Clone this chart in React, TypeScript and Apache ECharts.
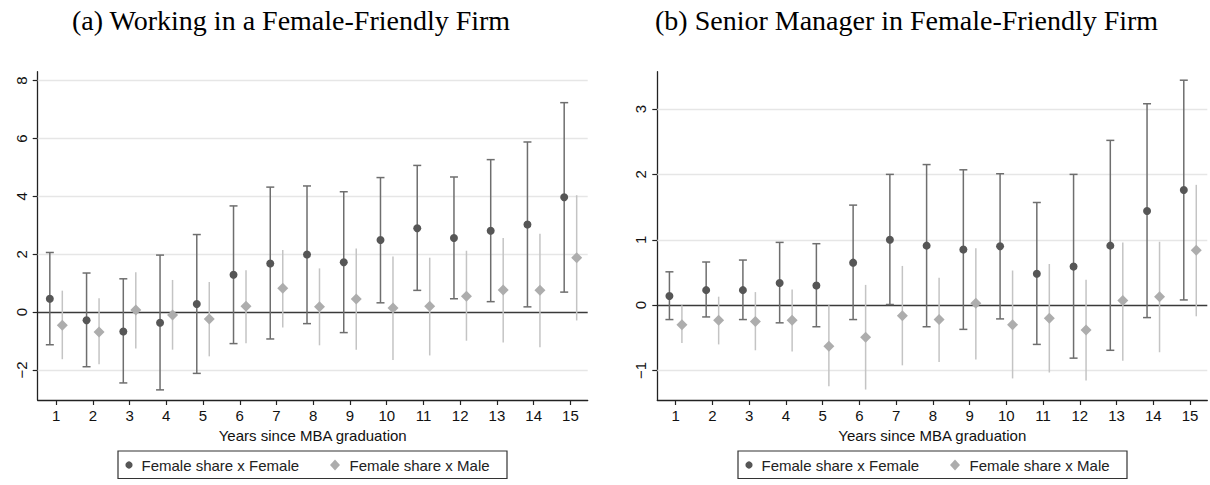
import React, { useEffect, useRef } from "react";
import * as echarts from "echarts";

const years = [1, 2, 3, 4, 5, 6, 7, 8, 9, 10, 11, 12, 13, 14, 15];

const leftFemale = [0.46, -0.28, -0.67, -0.37, 0.28, 1.29, 1.68, 1.99, 1.72, 2.49, 2.9, 2.56, 2.81, 3.03, 3.97];
const leftFemaleLow = [-1.13, -1.89, -2.45, -2.69, -2.12, -1.09, -0.93, -0.4, -0.71, 0.32, 0.75, 0.46, 0.36, 0.18, 0.69];
const leftFemaleHigh = [2.06, 1.35, 1.15, 1.97, 2.68, 3.67, 4.32, 4.36, 4.16, 4.65, 5.07, 4.67, 5.27, 5.88, 7.24];
const leftMale = [-0.46, -0.69, 0.07, -0.1, -0.24, 0.2, 0.82, 0.18, 0.45, 0.14, 0.2, 0.55, 0.76, 0.75, 1.88];
const leftMaleLow = [-1.63, -1.8, -1.26, -1.3, -1.53, -1.08, -0.53, -1.15, -1.3, -1.66, -1.5, -0.99, -1.05, -1.22, -0.29];
const leftMaleHigh = [0.74, 0.48, 1.38, 1.11, 1.04, 1.45, 2.15, 1.51, 2.2, 1.92, 1.88, 2.12, 2.56, 2.71, 4.04];

const rightFemale = [0.14, 0.23, 0.23, 0.34, 0.3, 0.65, 1.0, 0.91, 0.85, 0.9, 0.48, 0.59, 0.91, 1.44, 1.76];
const rightFemaleLow = [-0.22, -0.18, -0.22, -0.27, -0.33, -0.22, 0.01, -0.33, -0.37, -0.21, -0.6, -0.81, -0.69, -0.19, 0.08];
const rightFemaleHigh = [0.51, 0.66, 0.69, 0.96, 0.94, 1.53, 2.0, 2.15, 2.07, 2.01, 1.57, 2.0, 2.52, 3.08, 3.44];
const rightMale = [-0.3, -0.23, -0.25, -0.23, -0.63, -0.49, -0.16, -0.22, 0.03, -0.3, -0.2, -0.38, 0.07, 0.13, 0.84];
const rightMaleLow = [-0.58, -0.6, -0.69, -0.71, -1.24, -1.29, -0.92, -0.87, -0.83, -1.12, -1.03, -1.15, -0.85, -0.72, -0.17];
const rightMaleHigh = [0.0, 0.13, 0.2, 0.24, 0.0, 0.31, 0.6, 0.42, 0.87, 0.53, 0.63, 0.39, 0.96, 0.97, 1.84];

const leftYTicks = [-2, 0, 2, 4, 6, 8];
const rightYTicks = [-1, 0, 1, 2, 3];

const titles = ["(a) Working in a Female-Friendly Firm", "(b) Senior Manager in Female-Friendly Firm"];
const xAxisTitle = "Years since MBA graduation";
const femaleName = "Female share x Female";
const maleName = "Female share x Male";

const OFFSET = 0.17;
const SANS = "Liberation Sans, Arial, Helvetica, sans-serif";
const SERIF = "Liberation Serif, Times New Roman, serif";

const FEMALE_DOT = "#565656";
const FEMALE_CI = "#6e6e6e";
const MALE_DOT = "#adadad";
const MALE_CI = "#c4c4c4";

function errorBarSeries(gridIdx: number, offset: number, lows: number[], highs: number[], color: string, caps: boolean) {
  return {
    type: "custom",
    xAxisIndex: gridIdx,
    yAxisIndex: gridIdx,
    z: 3,
    silent: true,
    encode: { x: 0, y: [1, 2] },
    data: years.map((yr, i) => [yr + offset, lows[i], highs[i]]),
    renderItem: (params: any, api: any) => {
      const x = api.value(0);
      const p1 = api.coord([x, api.value(1)]);
      const p2 = api.coord([x, api.value(2)]);
      const style = { stroke: color, lineWidth: 1.5 };
      const children: any[] = [
        { type: "line", shape: { x1: p1[0], y1: p1[1], x2: p2[0], y2: p2[1] }, style },
      ];
      if (caps) {
        children.push({ type: "line", shape: { x1: p1[0] - 4, y1: p1[1], x2: p1[0] + 4, y2: p1[1] }, style });
        children.push({ type: "line", shape: { x1: p2[0] - 4, y1: p2[1], x2: p2[0] + 4, y2: p2[1] }, style });
      }
      return { type: "group", children };
    },
  };
}

function pointSeries(gridIdx: number, name: string, offset: number, vals: number[], symbol: string, size: number, color: string, gridTicks?: number[]) {
  const s: any = {
    type: "scatter",
    name,
    xAxisIndex: gridIdx,
    yAxisIndex: gridIdx,
    z: 4,
    symbol,
    symbolSize: size,
    itemStyle: { color, opacity: 1 },
    data: years.map((yr, i) => [yr + offset, vals[i]]),
  };
  if (gridTicks) {
    s.markLine = {
      silent: true,
      symbol: "none",
      z: 1,
      label: { show: false },
      animation: false,
      data: [
        ...gridTicks.filter((t) => t !== 0).map((t) => ({ yAxis: t, lineStyle: { color: "#e6e6e6", width: 1.4, type: "solid" } })),
        { yAxis: 0, lineStyle: { color: "#3a3a3a", width: 1.4, type: "solid" } },
      ],
    };
  }
  return s;
}

const fmt = (v: number) => String(v).replace("-", "\u2212");

function App() {
  const ref = useRef<HTMLDivElement>(null);
  useEffect(() => {
    document.body.style.margin = "0";
    const chart = echarts.init(ref.current!, null, { renderer: "svg" });
    const grids = [
      { left: 37.7, top: 71.7, width: 550, height: 328.3 },
      { left: 657.3, top: 71.7, width: 550, height: 328.3 },
    ];
    const yRanges = [
      { min: -3.04, max: 8.31, ticks: leftYTicks },
      { min: -1.45, max: 3.57, ticks: rightYTicks },
    ];
    const legendLefts = [118, 738];
    const graphics: any[] = [];
    titles.forEach((t, i) => {
      graphics.push({
        type: "text",
        left: i === 0 ? 72 : 655,
        top: 6,
        style: { text: t, font: `28px ${SERIF}`, fill: "#000" },
      });
    });
    legendLefts.forEach((L) => {
      graphics.push({ type: "rect", shape: { x: L, y: 451, width: 389, height: 27.5 }, style: { fill: "#fff", stroke: "#333", lineWidth: 1.2 } });
      graphics.push({ type: "circle", shape: { cx: L + 11, cy: 465, r: 3.6 }, style: { fill: FEMALE_DOT } });
      graphics.push({ type: "text", x: L + 23.5, y: 465.5, style: { text: femaleName, font: `15px ${SANS}`, fill: "#222", verticalAlign: "middle", align: "left" } });
      graphics.push({
        type: "polygon",
        shape: { points: [[L + 217, 459.5], [L + 222, 465], [L + 217, 470.5], [L + 212, 465]] },
        style: { fill: MALE_DOT },
      });
      graphics.push({ type: "text", x: L + 231.5, y: 465.5, style: { text: maleName, font: `15px ${SANS}`, fill: "#222", verticalAlign: "middle", align: "left" } });
    });

    const option: any = {
      animation: false,
      backgroundColor: "#fff",
      grid: grids,
      xAxis: [0, 1].map((i) => ({
        gridIndex: i,
        type: "value",
        min: 0.5,
        max: 15.47,
        axisLine: { show: true, onZero: false, lineStyle: { color: "#222", width: 1.3 } },
        axisTick: { show: true, customValues: years, length: 5, lineStyle: { color: "#222", width: 1.2 } },
        axisLabel: { customValues: years, margin: 8, fontSize: 15, color: "#111", fontFamily: SANS },
        splitLine: { show: false },
        name: xAxisTitle,
        nameLocation: "middle",
        nameGap: 20,
        nameTextStyle: { fontSize: 15, color: "#111", fontFamily: SANS },
      })),
      yAxis: [0, 1].map((i) => ({
        gridIndex: i,
        type: "value",
        min: yRanges[i].min,
        max: yRanges[i].max,
        axisLine: { show: true, onZero: false, lineStyle: { color: "#222", width: 1.3 } },
        axisTick: { show: true, customValues: yRanges[i].ticks, length: 5, lineStyle: { color: "#222", width: 1.2 } },
        axisLabel: { customValues: yRanges[i].ticks, rotate: 90, margin: 9, fontSize: 15, color: "#111", fontFamily: SANS, formatter: fmt },
        splitLine: { show: false },
      })),
      graphic: graphics,
      series: [
        errorBarSeries(0, -OFFSET, leftFemaleLow, leftFemaleHigh, FEMALE_CI, true),
        errorBarSeries(0, OFFSET, leftMaleLow, leftMaleHigh, MALE_CI, false),
        pointSeries(0, femaleName, -OFFSET, leftFemale, "circle", 8, FEMALE_DOT, leftYTicks),
        pointSeries(0, maleName, OFFSET, leftMale, "diamond", 11, MALE_DOT),
        errorBarSeries(1, -OFFSET, rightFemaleLow, rightFemaleHigh, FEMALE_CI, true),
        errorBarSeries(1, OFFSET, rightMaleLow, rightMaleHigh, MALE_CI, false),
        pointSeries(1, femaleName, -OFFSET, rightFemale, "circle", 8, FEMALE_DOT, rightYTicks),
        pointSeries(1, maleName, OFFSET, rightMale, "diamond", 11, MALE_DOT),
      ],
    };
    chart.setOption(option);
    return () => chart.dispose();
  }, []);
  return <div ref={ref} style={{ width: 1210, height: 485 }} />;
}

export default App;
